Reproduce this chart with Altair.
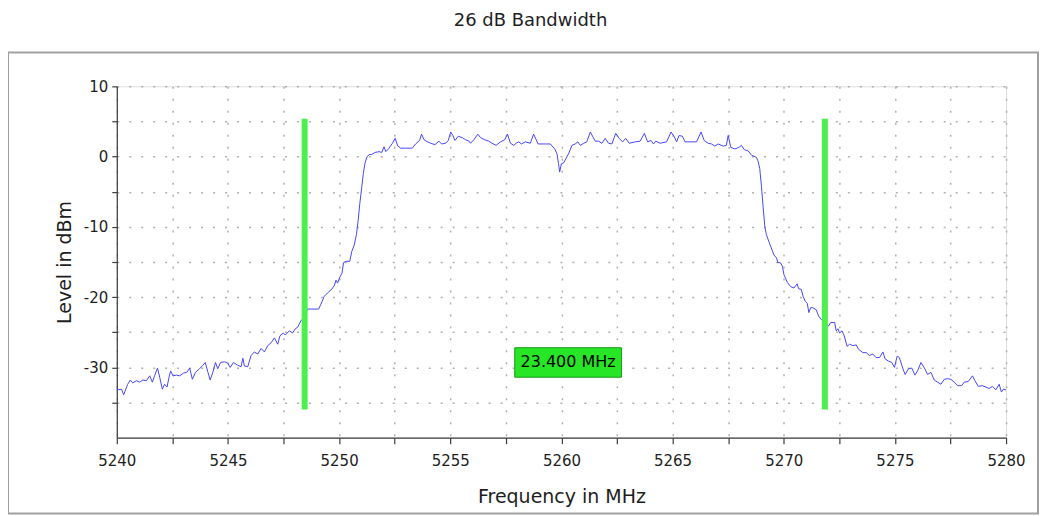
import altair as alt
import pandas as pd

chart_title = "26 dB Bandwidth"
x_title = "Frequency in MHz"
y_title = "Level in dBm"

# (frequency MHz, level dBm)
left_skirt = [
    (5240.00, -33.2), (5240.21, -33.1), (5240.31, -33.9), (5240.49, -32.4), (5240.61, -31.8),
    (5240.72, -32.2), (5240.88, -31.9), (5241.03, -32.1), (5241.17, -31.8), (5241.33, -31.9),
    (5241.48, -31.2), (5241.60, -32.1), (5241.70, -31.2), (5241.83, -30.1), (5241.93, -31.4),
    (5242.05, -33.1), (5242.15, -32.4), (5242.26, -32.8), (5242.35, -31.4), (5242.42, -30.5),
    (5242.53, -31.2), (5242.68, -31.1), (5242.83, -31.2), (5243.01, -30.8), (5243.15, -30.7),
    (5243.28, -30.1), (5243.40, -31.7), (5243.54, -30.7), (5243.72, -30.2), (5243.87, -29.7),
    (5243.98, -29.3), (5244.10, -30.7), (5244.20, -31.8), (5244.32, -30.7), (5244.44, -29.3),
    (5244.54, -30.2), (5244.67, -29.3), (5244.85, -29.2), (5244.99, -29.4), (5245.10, -30.0),
    (5245.25, -29.3), (5245.44, -29.7), (5245.59, -29.9), (5245.67, -28.7), (5245.74, -29.8),
    (5245.89, -29.9), (5246.04, -28.3), (5246.19, -27.8), (5246.34, -28.1), (5246.49, -27.3),
    (5246.64, -27.8), (5246.79, -26.9), (5246.94, -26.5), (5247.09, -25.8), (5247.24, -26.7),
    (5247.34, -25.5), (5247.49, -25.1), (5247.58, -25.4), (5247.76, -24.8), (5247.91, -25.1),
    (5248.03, -24.5), (5248.13, -24.3), (5248.29, -23.3), (5248.36, -23.2),
]

passband = [
    (5248.58, -21.7), (5249.08, -21.7), (5249.18, -21.0), (5249.33, -19.9), (5249.48, -19.4),
    (5249.63, -19.0), (5249.78, -18.4), (5249.86, -17.6), (5249.93, -18.0), (5250.04, -17.1),
    (5250.13, -16.6), (5250.20, -15.1), (5250.31, -14.9), (5250.48, -14.9), (5250.57, -13.5),
    (5250.68, -12.6), (5250.78, -11.1), (5250.86, -9.0), (5250.93, -6.7), (5251.02, -4.3),
    (5251.09, -2.4), (5251.16, -1.0), (5251.24, -0.1), (5251.35, 0.3), (5251.47, 0.3),
    (5251.62, 0.6), (5251.80, 0.7), (5251.92, 0.6), (5252.02, 1.4), (5252.10, 0.7),
    (5252.22, 1.1), (5252.40, 1.9), (5252.52, 2.6), (5252.64, 1.5), (5252.77, 1.2),
    (5253.00, 1.2), (5253.29, 1.2), (5253.44, 1.8), (5253.62, 2.3), (5253.71, 3.2),
    (5253.82, 2.4), (5253.97, 2.1), (5254.12, 1.9), (5254.31, 1.7), (5254.49, 2.2),
    (5254.61, 1.8), (5254.79, 1.9), (5254.91, 2.3), (5255.02, 3.5), (5255.12, 3.0),
    (5255.21, 2.3), (5255.36, 2.9), (5255.54, 2.7), (5255.69, 2.4), (5255.84, 2.2),
    (5255.91, 1.9), (5256.06, 2.4), (5256.24, 3.2), (5256.36, 2.7), (5256.55, 2.4),
    (5256.73, 2.2), (5256.88, 1.9), (5257.06, 1.6), (5257.26, 2.1), (5257.45, 2.4),
    (5257.57, 3.2), (5257.71, 1.9), (5257.86, 1.6), (5257.96, 1.9), (5258.08, 2.1),
    (5258.20, 1.8), (5258.38, 2.1), (5258.60, 1.9), (5258.75, 3.2), (5258.95, 1.8),
    (5259.28, 1.8), (5259.50, 1.8), (5259.70, 1.1), (5259.80, 0.4), (5259.87, -1.0),
    (5259.92, -2.2), (5260.00, -1.0), (5260.10, -0.9), (5260.20, -0.3), (5260.32, 0.4),
    (5260.47, 1.6), (5260.62, 1.8), (5260.74, 2.1), (5260.85, 1.6), (5261.00, 1.9),
    (5261.14, 2.1), (5261.30, 3.5), (5261.40, 2.9), (5261.52, 2.2), (5261.67, 2.2),
    (5261.82, 1.9), (5261.97, 2.6), (5262.12, 1.9), (5262.27, 1.8), (5262.44, 3.3),
    (5262.60, 2.6), (5262.75, 2.1), (5262.89, 2.6), (5263.05, 1.9), (5263.32, 2.1),
    (5263.54, 2.2), (5263.73, 3.3), (5263.88, 2.1), (5264.03, 2.3), (5264.14, 1.8),
    (5264.24, 2.2), (5264.44, 1.9), (5264.73, 2.1), (5264.93, 3.5), (5265.08, 2.8),
    (5265.18, 2.1), (5265.29, 3.0), (5265.44, 2.9), (5265.56, 2.1), (5265.78, 2.1),
    (5266.08, 2.1), (5266.28, 3.5), (5266.42, 2.3), (5266.60, 1.9), (5266.75, 1.8),
    (5266.90, 1.5), (5267.05, 1.8), (5267.28, 1.5), (5267.42, 1.6), (5267.50, 3.0),
    (5267.62, 1.3), (5267.80, 1.1), (5267.98, 1.3), (5268.10, 1.6), (5268.22, 1.0),
    (5268.40, 0.8), (5268.55, 0.2), (5268.77, -0.1), (5268.85, -0.7),
]

right_skirt = [
    (5268.92, -1.7), (5269.00, -4.3), (5269.07, -7.1), (5269.15, -10.0), (5269.22, -11.1),
    (5269.33, -12.1), (5269.44, -13.0), (5269.56, -14.0), (5269.67, -14.4), (5269.74, -15.1),
    (5269.85, -15.1), (5269.94, -15.6), (5270.01, -16.8), (5270.16, -17.9), (5270.31, -18.5),
    (5270.46, -18.7), (5270.60, -18.1), (5270.67, -18.8), (5270.79, -18.9), (5270.87, -19.9),
    (5270.97, -20.6), (5271.06, -20.9), (5271.13, -22.2), (5271.21, -21.5), (5271.31, -21.5),
    (5271.46, -21.8), (5271.57, -22.7), (5271.69, -23.2), (5272.02, -24.1), (5272.11, -23.6),
    (5272.29, -23.6), (5272.36, -24.8), (5272.44, -24.5), (5272.51, -25.1), (5272.62, -24.8),
    (5272.71, -25.4), (5272.85, -27.0), (5272.96, -26.7), (5273.11, -26.9), (5273.26, -26.8),
    (5273.36, -27.4), (5273.56, -27.9), (5273.71, -27.9), (5273.86, -28.3), (5274.01, -28.1),
    (5274.15, -28.6), (5274.31, -28.6), (5274.46, -27.8), (5274.56, -28.8), (5274.71, -29.1),
    (5274.86, -29.3), (5274.98, -30.0), (5275.10, -28.4), (5275.20, -28.6), (5275.35, -30.1),
    (5275.46, -31.0), (5275.61, -30.2), (5275.76, -30.1), (5275.90, -31.1), (5276.02, -30.5),
    (5276.17, -29.3), (5276.33, -30.1), (5276.47, -31.0), (5276.62, -30.7), (5276.77, -31.8),
    (5276.92, -32.1), (5277.07, -32.4), (5277.22, -31.7), (5277.37, -31.6), (5277.52, -31.7),
    (5277.67, -32.1), (5277.82, -32.6), (5278.00, -32.6), (5278.12, -32.1), (5278.30, -32.0),
    (5278.49, -31.2), (5278.60, -31.9), (5278.75, -32.7), (5278.94, -32.6), (5279.09, -32.8),
    (5279.24, -33.0), (5279.39, -32.7), (5279.54, -33.2), (5279.69, -32.4), (5279.79, -33.5),
    (5279.88, -33.1), (5280.00, -33.2),
]

# bandwidth markers
marker_freqs = [5248.45, 5271.85]
marker_top = [5.4, 5.4]
marker_bottom = [-36.0, -36.0]

# bandwidth readout box
bw_label = ["23.400 MHz"]
bw_label_freq = [5260.3]
bw_label_level = [-29.3]
bw_box_left = [5257.9]
bw_box_right = [5262.7]
bw_box_top = [-27.2]
bw_box_bottom = [-31.4]

x_domain = [5240, 5280]
y_domain = [-40, 10]
x_tick_values = [5240, 5242.5, 5245, 5247.5, 5250, 5252.5, 5255, 5257.5, 5260,
                 5262.5, 5265, 5267.5, 5270, 5272.5, 5275, 5277.5, 5280]
y_tick_values = [-35, -30, -25, -20, -15, -10, -5, 0, 5, 10]

FONT = "DejaVu Sans"
AXIS_COLOR = "#3c3c3c"
TEXT_COLOR = "#1e1e1e"

trace_df = pd.DataFrame(left_skirt + passband + right_skirt, columns=["freq", "level"])
marker_df = pd.DataFrame({"freq": marker_freqs, "top": marker_top, "bottom": marker_bottom})
label_df = pd.DataFrame({
    "label": bw_label, "freq": bw_label_freq, "level": bw_label_level,
    "left": bw_box_left, "right": bw_box_right, "top": bw_box_top, "bottom": bw_box_bottom,
})

x_scale = alt.Scale(domain=x_domain, nice=False, zero=False)
y_scale = alt.Scale(domain=y_domain, nice=False, zero=False)

x_axis = alt.Axis(
    values=x_tick_values,
    labelExpr="datum.value % 5 == 0 ? toString(datum.value) : ''",
    grid=True, gridColor="#b0b0b0", gridDash=[2, 10], gridWidth=1.5,
    domainColor=AXIS_COLOR, domainWidth=1.2, tickColor=AXIS_COLOR, tickWidth=1.2, tickSize=6,
    labelFont=FONT, labelFontSize=15, labelColor=TEXT_COLOR, labelPadding=10,
    labelFlush=False, labelOverlap=False,
    titleFont=FONT, titleFontSize=19, titleFontWeight="normal", titleColor=TEXT_COLOR,
    titlePadding=19,
)
y_axis = alt.Axis(
    values=y_tick_values,
    labelExpr="datum.value % 10 == 0 ? toString(datum.value) : ''",
    grid=True, gridColor="#b0b0b0", gridDash=[2, 10], gridWidth=1.5,
    domainColor=AXIS_COLOR, domainWidth=1.2, tickColor=AXIS_COLOR, tickWidth=1.2, tickSize=5,
    labelFont=FONT, labelFontSize=15, labelColor=TEXT_COLOR, labelPadding=4,
    labelFlush=False, labelOverlap=False,
    titleFont=FONT, titleFontSize=19, titleFontWeight="normal", titleColor=TEXT_COLOR,
    titlePadding=9,
)

frame = alt.Chart(pd.DataFrame({"k": [0]})).mark_rect(
    fillOpacity=0, stroke="#a0a0a0", strokeWidth=2
).encode(
    x=alt.value(-109), x2=alt.value(923), y=alt.value(-34), y2=alt.value(428)
)

line = alt.Chart(trace_df).mark_line(color="#4646ff", strokeWidth=1).encode(
    x=alt.X("freq:Q", scale=x_scale, axis=x_axis, title=x_title),
    y=alt.Y("level:Q", scale=y_scale, axis=y_axis, title=y_title),
)

markers = alt.Chart(marker_df).mark_rule(color="#4cf04c", strokeWidth=6).encode(
    x=alt.X("freq:Q", scale=x_scale, axis=x_axis, title=x_title),
    y=alt.Y("top:Q", scale=y_scale, axis=y_axis, title=y_title),
    y2="bottom:Q",
)

box = alt.Chart(label_df).mark_rect(fill="#26e626", stroke="#189a18", strokeWidth=1).encode(
    x=alt.X("left:Q", scale=x_scale, axis=x_axis, title=x_title),
    x2="right:Q",
    y=alt.Y("top:Q", scale=y_scale, axis=y_axis, title=y_title),
    y2="bottom:Q",
)

label = alt.Chart(label_df).mark_text(
    font=FONT, fontSize=16, color="#000000", align="center", baseline="middle"
).encode(
    x=alt.X("freq:Q", scale=x_scale, axis=x_axis, title=x_title),
    y=alt.Y("level:Q", scale=y_scale, axis=y_axis, title=y_title),
    text="label:N",
)

chart = alt.layer(frame, line, markers, box, label).properties(
    width=891,
    height=352,
    padding={"left": 109, "top": 78, "right": 33, "bottom": 78},
    autosize=alt.AutoSizeParams(type="none"),
    title=alt.TitleParams(
        text=chart_title, font=FONT, fontSize=18, fontWeight="normal",
        color=TEXT_COLOR, anchor="middle", dx=-31, offset=21,
    ),
).configure_view(stroke=None).configure(background="white")

chart.save("out.html", embed_options={"renderer": "svg", "actions": False})
